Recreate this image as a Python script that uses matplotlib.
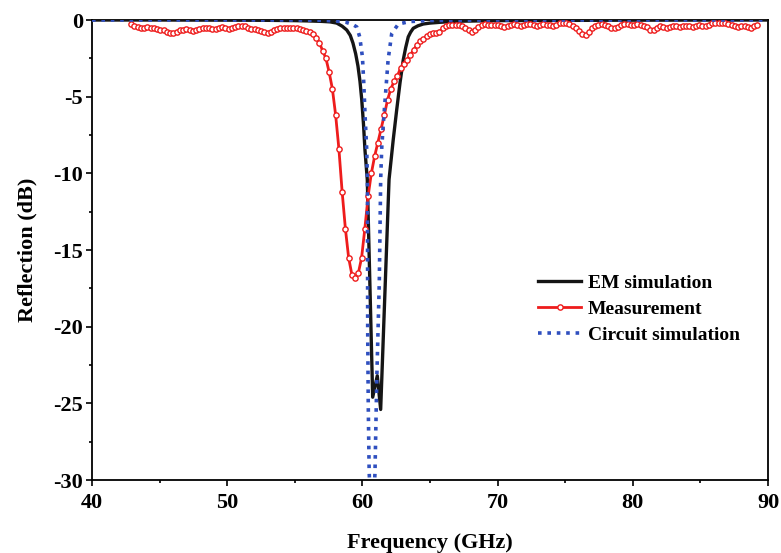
import numpy as np
import matplotlib
matplotlib.use('Agg')
import matplotlib.pyplot as plt
from matplotlib.ticker import MultipleLocator

plt.rcParams['font.family'] = ['Liberation Serif', 'DejaVu Serif']
plt.rcParams['font.weight'] = 'bold'
plt.rcParams['axes.unicode_minus'] = False

# EM simulation (GHz, dB)
f_em = [40, 45, 50, 53, 55, 56, 57, 57.6, 58.1, 58.5, 58.84, 59.1, 59.3, 59.5,
        59.67, 59.82, 59.95, 60.08, 60.19, 60.36, 60.76, 61.1, 61.35, 61.97,
        62.28, 62.53, 62.78, 63.02, 63.2, 63.39, 63.56, 63.76, 64.1, 64.5,
        65.0, 65.74, 67, 70, 80, 90]
s_em = [0, 0, -0.01, -0.02, -0.04, -0.06, -0.09, -0.12, -0.2, -0.4, -0.65,
        -1.0, -1.5, -2.2, -3.0, -4.0, -5.2, -6.8, -8.5, -10.4, -24.6, -23.2,
        -25.4, -10.4, -7.8, -5.9, -4.1, -2.6, -1.8, -1.1, -0.8, -0.54, -0.38,
        -0.26, -0.2, -0.15, -0.08, -0.04, -0.01, 0]

# circuit model (GHz, dB)
f_cir = [40, 50, 55, 57, 58, 58.8, 59.3, 59.58, 59.8, 60.0, 60.1, 60.2, 60.32,
         60.37, 60.39, 60.43, 60.5, 60.72, 60.93, 61.06, 61.25, 61.35, 61.43,
         61.6, 61.75, 61.9, 62.17, 62.66, 63.5, 65, 70, 90]
s_cir = [0, 0, 0, -0.02, -0.06, -0.15, -0.3, -0.45, -1.1, -2.4, -4.1, -6.3,
         -8.5, -10.4, -20.0, -25.0, -29.5, -34.0, -29.5, -23.5, -17.0, -10.4,
         -8.3, -6.1, -4.35, -2.6, -0.87, -0.26, -0.1, -0.03, 0, 0]

# measured sweep, 42.9 - 89.22 GHz
f_meas = np.linspace(42.9, 89.22, 194)
s_meas = [
    -0.28, -0.42, -0.48, -0.50, -0.50, -0.48, -0.50, -0.55, -0.60, -0.63,
    -0.68, -0.75, -0.82, -0.85, -0.78, -0.68, -0.62, -0.60, -0.64, -0.70,
    -0.66, -0.58, -0.52, -0.50, -0.55, -0.60, -0.56, -0.50, -0.47, -0.50,
    -0.56, -0.55, -0.47, -0.40, -0.36, -0.42, -0.50, -0.56, -0.60, -0.65,
    -0.72, -0.80, -0.86, -0.76, -0.64, -0.56, -0.52, -0.50, -0.50, -0.52,
    -0.50, -0.52, -0.56, -0.62, -0.70, -0.78, -0.90, -1.15, -1.50, -2.00,
    -2.50, -3.40, -4.50, -6.20, -8.40, -11.2, -13.6, -15.5, -16.6, -16.8,
    -16.5, -15.5, -13.6, -11.5, -10.0, -8.90, -8.00, -7.10, -6.20, -5.20,
    -4.50, -4.00, -3.65, -3.15, -2.90, -2.60, -2.30, -1.95, -1.65, -1.40,
    -1.25, -1.05, -0.93, -0.87, -0.83, -0.76, -0.55, -0.40, -0.32, -0.30,
    -0.30, -0.32, -0.38, -0.50, -0.68, -0.75, -0.62, -0.45, -0.33, -0.28,
    -0.30, -0.33, -0.30, -0.35, -0.42, -0.45, -0.38, -0.30, -0.27, -0.30,
    -0.36, -0.32, -0.26, -0.25, -0.30, -0.36, -0.33, -0.28, -0.30, -0.34,
    -0.38, -0.30, -0.22, -0.18, -0.20, -0.26, -0.38, -0.55, -0.72, -0.88,
    -0.98, -0.80, -0.55, -0.38, -0.30, -0.28, -0.30, -0.40, -0.50, -0.55,
    -0.45, -0.32, -0.26, -0.25, -0.30, -0.30, -0.26, -0.30, -0.38, -0.48,
    -0.62, -0.66, -0.50, -0.40, -0.45, -0.50, -0.44, -0.38, -0.42, -0.45,
    -0.40, -0.36, -0.42, -0.46, -0.40, -0.35, -0.38, -0.40, -0.30, -0.22,
    -0.20, -0.18, -0.20, -0.22, -0.25, -0.30, -0.38, -0.45, -0.40, -0.38,
    -0.46, -0.55, -0.42, -0.32,
]

fig = plt.figure(figsize=(7.81, 5.53), dpi=100)
ax = fig.add_axes([0.1178, 0.132, 0.8656, 0.8318])

ax.plot(f_em, s_em, color='#151515', lw=2.4, zorder=3, label='EM simulation')
ax.plot(f_meas, s_meas, color='#ee1c1c', lw=2.0, marker='o', ms=3.8,
        mfc='white', mec='#ee1c1c', mew=1.0, zorder=4, label='Measurement')
ax.plot(f_cir, s_cir, color='#2f4fbf', lw=2.6, ls=(0, (1, 1.6)),
        dash_capstyle='butt', zorder=5, label='Circuit simulation')

ax.set_xlim(40, 90)
ax.set_ylim(-30, 0)
ax.xaxis.set_major_locator(MultipleLocator(10))
ax.xaxis.set_minor_locator(MultipleLocator(5))
ax.yaxis.set_major_locator(MultipleLocator(5))
ax.yaxis.set_minor_locator(MultipleLocator(2.5))
ax.tick_params(which='both', direction='out', top=False, right=False,
               width=1.2, labelsize=16)
ax.tick_params(which='major', length=4.5)
ax.tick_params(which='minor', length=2.5)
ax.tick_params(axis='x', pad=5)
ax.tick_params(axis='y', pad=2)
for s in ax.spines.values():
    s.set_linewidth(1.3)

ax.set_xlabel('Frequency (GHz)', fontsize=16, fontweight='bold', labelpad=14)
ax.set_ylabel('Reflection (dB)', fontsize=16, fontweight='bold', labelpad=11)

leg = ax.legend(loc='upper left', bbox_to_anchor=(0.66, 0.447), frameon=False,
                fontsize=14, numpoints=1, handlelength=2.2, handletextpad=0.35,
                labelspacing=0.42, borderpad=0, borderaxespad=0)
for t in leg.get_texts():
    t.set_fontweight('bold')

fig.savefig('out.png', dpi=100)
